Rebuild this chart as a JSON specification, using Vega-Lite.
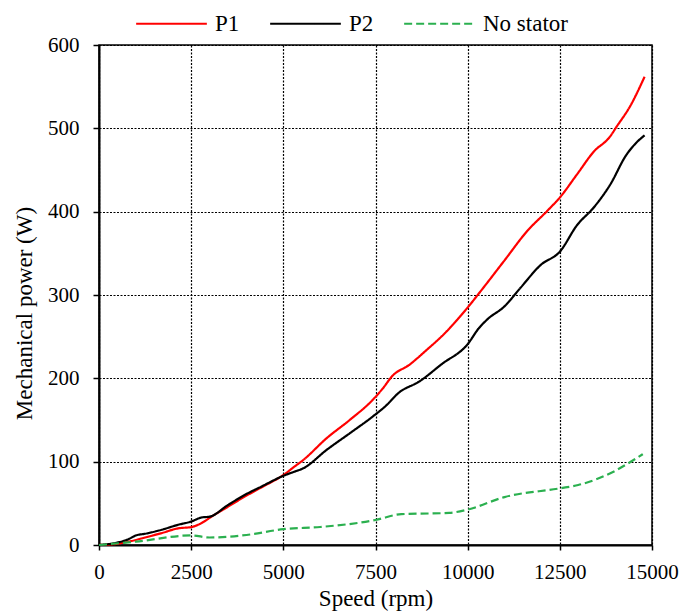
{
  "$schema": "https://vega.github.io/schema/vega-lite/v6.json",
  "width": 553,
  "height": 500,
  "autosize": {"type": "none"},
  "padding": {"left": 99, "top": 45, "right": 30, "bottom": 69},
  "background": "white",
  "config": {
    "font": "Liberation Serif",
    "view": {"stroke": "#000000", "strokeWidth": 1.5},
    "axis": {
      "labelFont": "Liberation Serif",
      "titleFont": "Liberation Serif",
      "labelFontSize": 21,
      "titleFontSize": 23,
      "titleFontWeight": "normal",
      "labelColor": "#000000",
      "titleColor": "#000000",
      "domainColor": "#000000",
      "domainWidth": 2,
      "tickColor": "#000000",
      "tickWidth": 1.5,
      "grid": true,
      "gridColor": "#000000",
      "gridDash": [2, 1.5],
      "gridWidth": 1.2,
      "gridOpacity": 1
    },
    "legend": {
      "labelFont": "Liberation Serif",
      "labelFontSize": 23,
      "labelColor": "#000000"
    }
  },
  "data": {
    "values": [
      {"speed": 0, "power": 0, "series": "P1"},
      {"speed": 500, "power": 1.5, "series": "P1"},
      {"speed": 800, "power": 4, "series": "P1"},
      {"speed": 1250, "power": 9, "series": "P1"},
      {"speed": 1700, "power": 14.3, "series": "P1"},
      {"speed": 2150, "power": 20, "series": "P1"},
      {"speed": 2500, "power": 21.5, "series": "P1"},
      {"speed": 2780, "power": 26.3, "series": "P1"},
      {"speed": 3050, "power": 34, "series": "P1"},
      {"speed": 3500, "power": 46, "series": "P1"},
      {"speed": 3950, "power": 58, "series": "P1"},
      {"speed": 4400, "power": 69, "series": "P1"},
      {"speed": 5000, "power": 84, "series": "P1"},
      {"speed": 5300, "power": 94, "series": "P1"},
      {"speed": 5540, "power": 102, "series": "P1"},
      {"speed": 6170, "power": 128, "series": "P1"},
      {"speed": 6800, "power": 150, "series": "P1"},
      {"speed": 7420, "power": 174, "series": "P1"},
      {"speed": 7700, "power": 188, "series": "P1"},
      {"speed": 7960, "power": 203, "series": "P1"},
      {"speed": 8410, "power": 216, "series": "P1"},
      {"speed": 8860, "power": 233, "series": "P1"},
      {"speed": 9400, "power": 255, "series": "P1"},
      {"speed": 10000, "power": 285, "series": "P1"},
      {"speed": 10360, "power": 305, "series": "P1"},
      {"speed": 10990, "power": 341, "series": "P1"},
      {"speed": 11620, "power": 377, "series": "P1"},
      {"speed": 12160, "power": 401, "series": "P1"},
      {"speed": 12500, "power": 417, "series": "P1"},
      {"speed": 12970, "power": 445, "series": "P1"},
      {"speed": 13420, "power": 472, "series": "P1"},
      {"speed": 13860, "power": 490, "series": "P1"},
      {"speed": 14040, "power": 502, "series": "P1"},
      {"speed": 14400, "power": 526, "series": "P1"},
      {"speed": 14800, "power": 562, "series": "P1"},

      {"speed": 0, "power": 0, "series": "P2"},
      {"speed": 500, "power": 3, "series": "P2"},
      {"speed": 800, "power": 7, "series": "P2"},
      {"speed": 1000, "power": 11.5, "series": "P2"},
      {"speed": 1250, "power": 13.5, "series": "P2"},
      {"speed": 1700, "power": 18.3, "series": "P2"},
      {"speed": 2150, "power": 24.3, "series": "P2"},
      {"speed": 2500, "power": 28.2, "series": "P2"},
      {"speed": 2780, "power": 33, "series": "P2"},
      {"speed": 3000, "power": 34, "series": "P2"},
      {"speed": 3500, "power": 48, "series": "P2"},
      {"speed": 3950, "power": 60, "series": "P2"},
      {"speed": 4400, "power": 70, "series": "P2"},
      {"speed": 5000, "power": 83, "series": "P2"},
      {"speed": 5300, "power": 88, "series": "P2"},
      {"speed": 5540, "power": 92, "series": "P2"},
      {"speed": 6170, "power": 114, "series": "P2"},
      {"speed": 6800, "power": 134, "series": "P2"},
      {"speed": 7420, "power": 154, "series": "P2"},
      {"speed": 7780, "power": 167, "series": "P2"},
      {"speed": 8140, "power": 183, "series": "P2"},
      {"speed": 8680, "power": 196, "series": "P2"},
      {"speed": 9310, "power": 217.5, "series": "P2"},
      {"speed": 10000, "power": 241, "series": "P2"},
      {"speed": 10300, "power": 260, "series": "P2"},
      {"speed": 10540, "power": 271, "series": "P2"},
      {"speed": 10990, "power": 286, "series": "P2"},
      {"speed": 11440, "power": 309, "series": "P2"},
      {"speed": 11980, "power": 336, "series": "P2"},
      {"speed": 12500, "power": 352, "series": "P2"},
      {"speed": 12970, "power": 384, "series": "P2"},
      {"speed": 13420, "power": 405, "series": "P2"},
      {"speed": 13860, "power": 432, "series": "P2"},
      {"speed": 14310, "power": 468.5, "series": "P2"},
      {"speed": 14580, "power": 483, "series": "P2"},
      {"speed": 14800, "power": 491.6, "series": "P2"},

      {"speed": 0, "power": 0, "series": "No stator"},
      {"speed": 1000, "power": 4, "series": "No stator"},
      {"speed": 2500, "power": 11.5, "series": "No stator"},
      {"speed": 3000, "power": 9, "series": "No stator"},
      {"speed": 4000, "power": 12, "series": "No stator"},
      {"speed": 5000, "power": 19, "series": "No stator"},
      {"speed": 6000, "power": 21.6, "series": "No stator"},
      {"speed": 7500, "power": 30, "series": "No stator"},
      {"speed": 8200, "power": 37, "series": "No stator"},
      {"speed": 9500, "power": 38.5, "series": "No stator"},
      {"speed": 10000, "power": 42.5, "series": "No stator"},
      {"speed": 11000, "power": 57.5, "series": "No stator"},
      {"speed": 12500, "power": 68, "series": "No stator"},
      {"speed": 13000, "power": 72, "series": "No stator"},
      {"speed": 14000, "power": 89, "series": "No stator"},
      {"speed": 14500, "power": 102, "series": "No stator"},
      {"speed": 14750, "power": 109, "series": "No stator"}
    ]
  },
  "mark": {"type": "line", "strokeWidth": 2.2, "interpolate": "monotone"},
  "encoding": {
    "x": {
      "field": "speed",
      "type": "quantitative",
      "scale": {"domain": [0, 15000], "nice": false},
      "axis": {
        "title": "Speed (rpm)",
        "values": [0, 2500, 5000, 7500, 10000, 12500, 15000],
        "format": "d",
        "tickSize": 5,
        "labelPadding": 11,
        "titlePadding": 5,
        "labelFlush": false
      }
    },
    "y": {
      "field": "power",
      "type": "quantitative",
      "scale": {"domain": [0, 600], "nice": false},
      "axis": {
        "title": "Mechanical power (W)",
        "values": [0, 100, 200, 300, 400, 500, 600],
        "tickSize": 6,
        "labelPadding": 14,
        "titlePadding": 11,
        "titleY": 268,
        "labelFlush": false
      }
    },
    "color": {
      "field": "series",
      "type": "nominal",
      "scale": {"domain": ["P1", "P2", "No stator"], "range": ["#ff0000", "#000000", "#2bb04f"]},
      "legend": {
        "title": null,
        "orient": "none",
        "legendX": 36,
        "legendY": -58,
        "direction": "horizontal",
        "symbolType": "stroke",
        "symbolSize": 5000,
        "symbolStrokeWidth": 2.2,
        "labelOffset": 7,
        "columnPadding": 25
      }
    },
    "strokeDash": {
      "field": "series",
      "type": "nominal",
      "scale": {"domain": ["P1", "P2", "No stator"], "range": [[1, 0], [1, 0], [8, 4]]},
      "legend": {
        "title": null,
        "orient": "none",
        "legendX": 36,
        "legendY": -58,
        "direction": "horizontal",
        "symbolType": "stroke",
        "symbolSize": 5000,
        "symbolStrokeWidth": 2.2,
        "labelOffset": 7,
        "columnPadding": 25
      }
    }
  }
}
